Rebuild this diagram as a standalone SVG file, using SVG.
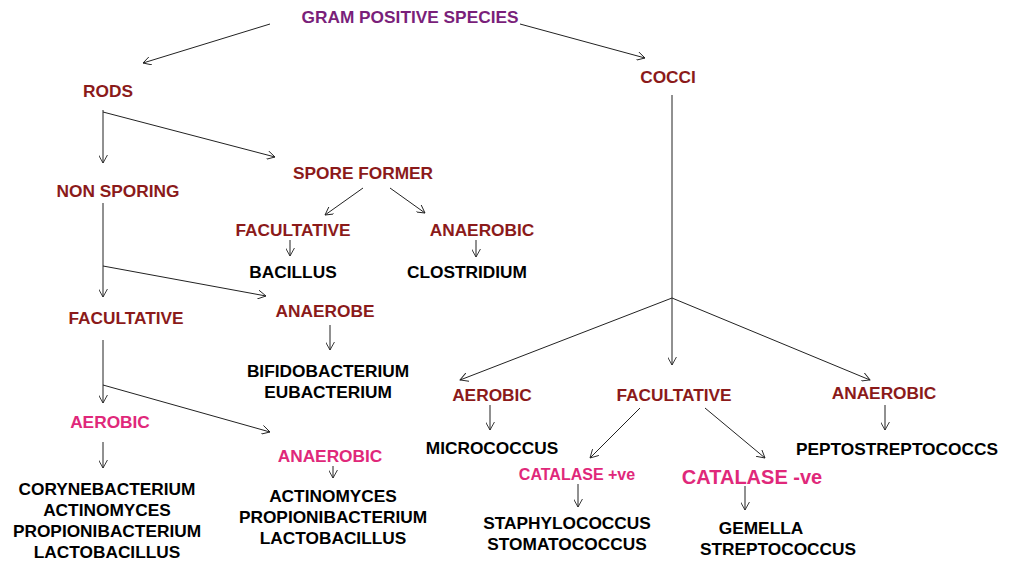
<svg xmlns="http://www.w3.org/2000/svg" width="1024" height="567" viewBox="0 0 1024 567">
<style>
text{font-family:"Liberation Sans",Arial,sans-serif;font-weight:bold;font-size:17.3px;text-anchor:middle}
.t{fill:#7a1f7a}.c{fill:#8b1a1a}.p{fill:#e0287a}.k{fill:#000}
.a{stroke:#222;stroke-width:1;fill:none;marker-end:url(#m)}
</style>
<defs><marker id="m" viewBox="0 0 10 10" refX="9" refY="5" markerWidth="9" markerHeight="9" orient="auto" markerUnits="userSpaceOnUse"><path d="M0,0 L9,5 L0,10" fill="none" stroke="#222" stroke-width="1"/></marker></defs>
<rect width="1024" height="567" fill="#fff"/>
<g id="connectors">
<path class="a" d="M270,24 L143,63"/><path class="a" d="M520,24 L645,58"/>
<path class="a" d="M103,110 L103,163"/><path class="a" d="M103,112 L275,157"/>
<path class="a" d="M363,188 L325,215"/><path class="a" d="M390,188 L425,213"/>
<path class="a" d="M290,240 L290,256"/><path class="a" d="M476,240 L476,257"/>
<path class="a" d="M103,203 L103,297"/><path class="a" d="M103,266 L266,296"/>
<path class="a" d="M330,325 L330,350"/>
<path class="a" d="M103,340 L103,403"/><path class="a" d="M103,385 L270,432"/>
<path class="a" d="M103,442 L103,468"/><path class="a" d="M333,466 L333,478"/>
<path class="a" d="M672,95 L672,365"/><path class="a" d="M672,298 L460,380"/><path class="a" d="M672,298 L870,380"/>
<path class="a" d="M490,405 L490,430"/><path class="a" d="M885,405 L885,430"/>
<path class="a" d="M640,408 L590,458"/><path class="a" d="M705,408 L765,458"/>
<path class="a" d="M578,484 L578,507"/><path class="a" d="M745,486 L745,510"/>
</g>
<g id="n-root"><text class="t" x="410" y="23">GRAM POSITIVE SPECIES</text></g>
<g id="n-rods"><text class="c" x="108" y="97">RODS</text></g>
<g id="n-cocci"><text class="c" x="668" y="83">COCCI</text></g>
<g id="n-nonsporing"><text class="c" x="118" y="197">NON SPORING</text></g>
<g id="n-spore"><text class="c" x="363" y="179">SPORE FORMER</text></g>
<g id="n-sfac"><text class="c" x="293" y="236">FACULTATIVE</text></g>
<g id="n-sana"><text class="c" x="482" y="236">ANAEROBIC</text></g>
<g id="n-bacillus"><text class="k" x="293" y="278">BACILLUS</text></g>
<g id="n-clos"><text class="k" x="467" y="278">CLOSTRIDIUM</text></g>
<g id="n-nfac"><text class="c" x="126" y="324">FACULTATIVE</text></g>
<g id="n-anaerobe"><text class="c" x="325" y="317">ANAEROBE</text></g>
<g id="n-bifido"><text class="k" x="328" y="377">BIFIDOBACTERIUM</text><text class="k" x="328" y="398">EUBACTERIUM</text></g>
<g id="n-aer"><text class="p" x="110" y="428">AEROBIC</text></g>
<g id="n-ana2"><text class="p" x="330" y="462">ANAEROBIC</text></g>
<g id="n-list1"><text class="k" x="107" y="495">CORYNEBACTERIUM</text><text class="k" x="107" y="516">ACTINOMYCES</text><text class="k" x="107" y="537">PROPIONIBACTERIUM</text><text class="k" x="107" y="558">LACTOBACILLUS</text></g>
<g id="n-list2"><text class="k" x="333" y="502">ACTINOMYCES</text><text class="k" x="333" y="523">PROPIONIBACTERIUM</text><text class="k" x="333" y="544">LACTOBACILLUS</text></g>
<g id="n-caer"><text class="c" x="492" y="401">AEROBIC</text></g>
<g id="n-cfac"><text class="c" x="674" y="401">FACULTATIVE</text></g>
<g id="n-cana"><text class="c" x="884" y="399">ANAEROBIC</text></g>
<g id="n-micro"><text class="k" x="492" y="454">MICROCOCCUS</text></g>
<g id="n-pepto"><text class="k" x="897" y="455">PEPTOSTREPTOCOCCS</text></g>
<g id="n-catp"><text class="p" x="577" y="480" style="font-size:16px">CATALASE +ve</text></g>
<g id="n-catn"><text class="p" x="752" y="484" style="font-size:20px">CATALASE -ve</text></g>
<g id="n-staph"><text class="k" x="567" y="529">STAPHYLOCOCCUS</text><text class="k" x="567" y="550">STOMATOCOCCUS</text></g>
<g id="n-gem"><text class="k" x="761" y="534">GEMELLA</text><text class="k" x="778" y="555">STREPTOCOCCUS</text></g>
</svg>
